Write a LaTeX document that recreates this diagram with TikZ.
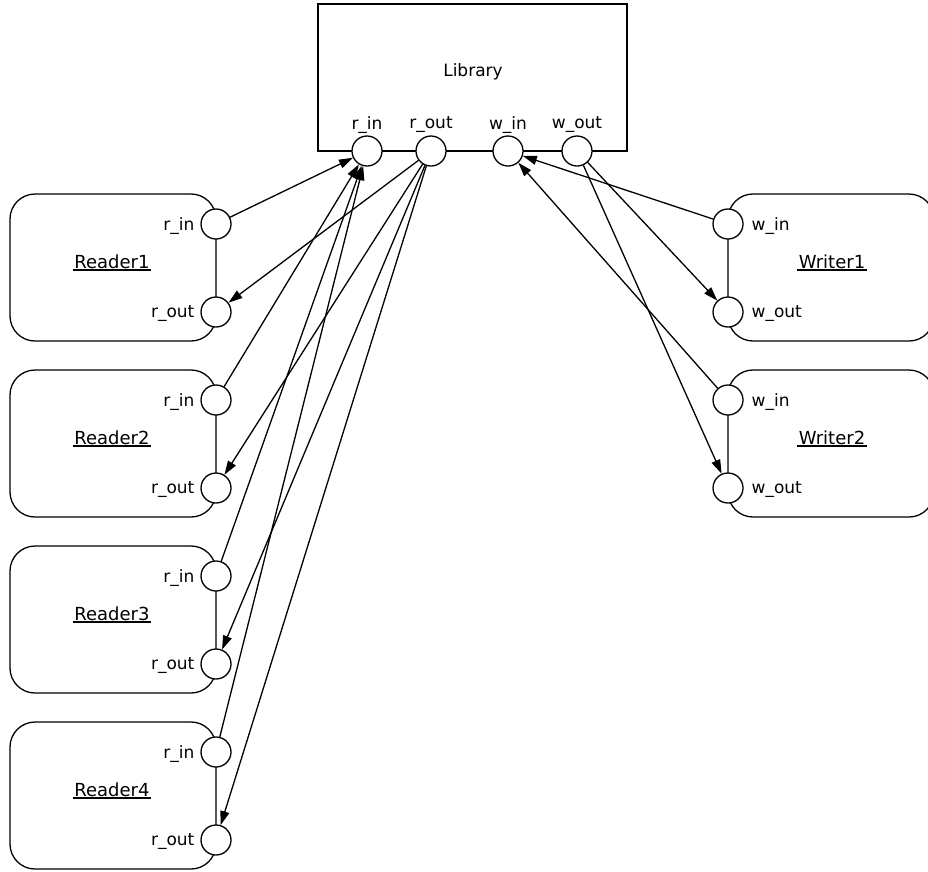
\documentclass[tikz,border=0pt]{standalone}
\usepackage{fontspec}
\setmainfont{DejaVu Sans}
\usetikzlibrary{arrows.meta}
% underlined component name with a heavier rule
\newcommand\compname[1]{\setbox0\hbox{#1}\rlap{\kern-1.5pt\rule[-3.2pt]{\dimexpr\wd0+3pt\relax}{2.4pt}}\box0}
\begin{document}
\begin{tikzpicture}[x=1pt,y=-1pt,line width=1.3pt,
  font=\fontsize{17}{20}\selectfont,
  port/.style={circle,draw,fill=white,minimum size=30pt,inner sep=0pt},
  lbl/.style={inner sep=0pt},
  cname/.style={inner sep=0pt,font=\fontsize{18}{21}\selectfont},
  arr/.style={-{Triangle[length=14pt,width=9pt]}},
  comp/.style={rounded corners=25pt}]
\useasboundingbox (0,0) rectangle (928,871);

% library component with its four ports
\draw (318,4) rectangle (627,151);
\node[lbl] (libname) at (473,72) {Library};
\node[port] (lri) at (367,151) {};
\node[port] (lro) at (431,151) {};
\node[port] (lwi) at (508,151) {};
\node[port] (lwo) at (577,151) {};
\node[lbl] (lrit) at (367,125) {r\_in};
\node[lbl] (lrot) at (431,125) {r\_out};
\node[lbl] (lwit) at (508,125) {w\_in};
\node[lbl] (lwot) at (577,125) {w\_out};

% readers
\foreach \i in {1,...,4}{
  \pgfmathsetmacro\top{194+176*(\i-1)}
  \draw[comp] (10,\top) rectangle (216,\top+147);
  \node[cname] (rn\i) at (112,\top+69) {\compname{Reader\i}};
  \node[port] (ri\i) at (216,\top+30) {};
  \node[port] (ro\i) at (216,\top+118) {};
  \node[lbl,anchor=east] (rit\i) at (195,\top+32) {r\_in};
  \node[lbl,anchor=east] (rot\i) at (195,\top+120) {r\_out};
  \draw[arr] (ri\i) -- (lri);
  \draw[arr] (lro) -- (ro\i);
}

% writers
\foreach \i in {1,2}{
  \pgfmathsetmacro\top{194+176*(\i-1)}
  \draw[comp] (728,\top) rectangle (934,\top+147);
  \node[cname] (wn\i) at (832,\top+69) {\compname{Writer\i}};
  \node[port] (wi\i) at (728,\top+30) {};
  \node[port] (wo\i) at (728,\top+118) {};
  \node[lbl,anchor=west] (wit\i) at (751,\top+32) {w\_in};
  \node[lbl,anchor=west] (wot\i) at (751,\top+120) {w\_out};
  \draw[arr] (wi\i) -- (lwi);
  \draw[arr] (lwo) -- (wo\i);
}
\end{tikzpicture}
\end{document}
